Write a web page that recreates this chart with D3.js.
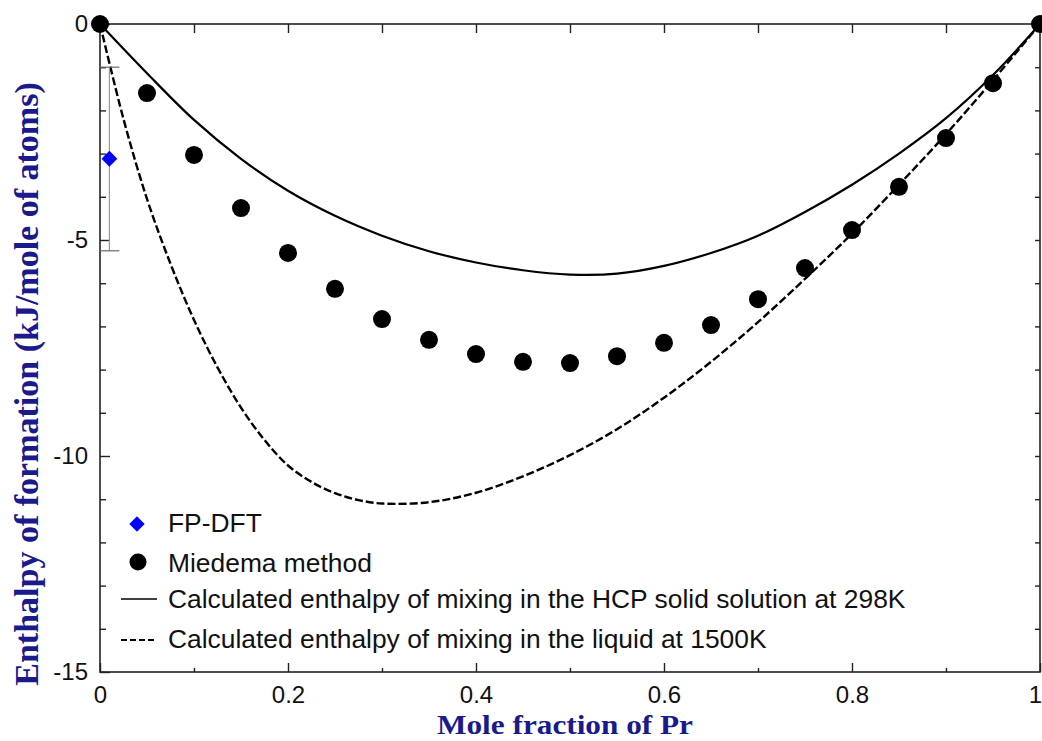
<!DOCTYPE html>
<html><head><meta charset="utf-8">
<script src="https://cdn.jsdelivr.net/npm/d3@7"></script>
<style>body{margin:0;background:#fff}svg{display:block}</style>
</head><body>
<svg id="c" width="1042" height="741"></svg>
<script>
// Miedema points
const miedemaX = [0,0.05,0.1,0.15,0.2,0.25,0.3,0.35,0.4,0.45,0.5,0.55,0.6,0.65,0.7,0.75,0.8,0.85,0.9,0.95,1];
const miedemaY = [0,-1.60,-3.03,-4.26,-5.30,-6.13,-6.83,-7.31,-7.64,-7.82,-7.85,-7.69,-7.38,-6.97,-6.37,-5.65,-4.77,-3.77,-2.64,-1.37,0];
// HCP solid solution at 298K
const hcpX = [0,0.05,0.1,0.15,0.2,0.25,0.3,0.35,0.4,0.45,0.5,0.55,0.6,0.65,0.7,0.75,0.8,0.85,0.9,0.95,1];
const hcpY = [0,-1.14,-2.22,-3.12,-3.86,-4.44,-4.90,-5.26,-5.52,-5.70,-5.80,-5.78,-5.60,-5.30,-4.90,-4.35,-3.72,-3.00,-2.18,-1.18,0];
// Liquid at 1500K
const liqX = [0,0.025,0.05,0.075,0.1,0.125,0.15,0.175,0.2,0.225,0.25,0.275,0.3,0.35,0.4,0.45,0.5,0.55,0.6,0.65,0.7,0.75,0.8,0.85,0.9,0.95,1];
const liqY = [0,-2.2,-4.05,-5.55,-6.85,-7.95,-8.88,-9.63,-10.22,-10.6,-10.86,-11.02,-11.1,-11.07,-10.85,-10.47,-9.98,-9.38,-8.65,-7.82,-6.9,-5.9,-4.85,-3.72,-2.55,-1.3,0];
// FP-DFT point with error bar
const dftX = [0.01];
const dftY = [-3.12];
const dftLow = [-5.25];
const dftHigh = [-1.0];
const xTicks = [0,0.2,0.4,0.6,0.8,1];
const yTicks = [0,-5,-10,-15];
const legendLabels = ["FP-DFT","Miedema method","Calculated enthalpy of mixing in the HCP solid solution at 298K","Calculated enthalpy of mixing in the liquid at 1500K"];

const svg = d3.select("#c");
const x = d3.scaleLinear().domain([0,1]).range([100,1040]);
const y = d3.scaleLinear().domain([-15,0]).range([672,24]);
const axisColor = "#222";
const sans = "Liberation Sans, Arial, sans-serif";
const serif = "Liberation Serif, Times New Roman, serif";

// frame
svg.append("rect").attr("x",x(0)).attr("y",y(0)).attr("width",x(1)-x(0)).attr("height",y(-15)-y(0))
  .attr("fill","none").attr("stroke",axisColor).attr("stroke-width",1.6);

// bottom axis
const gb = svg.append("g").attr("transform",`translate(0,${y(-15)})`);
gb.call(d3.axisBottom(x).tickValues(d3.range(0,1.01,0.1)).tickSize(-4).tickFormat(""));
gb.call(g=>g.selectAll(".tick").filter((d,i)=>i%2===0).select("line").attr("y2",-9));
gb.call(g=>g.select(".domain").remove());
gb.selectAll("line").attr("stroke",axisColor).attr("stroke-width",1.4);
const gbl = svg.append("g").attr("transform",`translate(0,${y(-15)})`)
  .call(d3.axisBottom(x).tickValues(xTicks).tickSize(0).tickPadding(14).tickFormat(d=>String(d)));
gbl.select(".domain").remove();
gbl.selectAll("text").attr("font-family",sans).attr("font-size",24).attr("fill","#111")
  .attr("dx",d=>d===1?-5:0);

// top axis
const gt = svg.append("g").attr("transform",`translate(0,${y(0)})`);
gt.call(d3.axisTop(x).tickValues(d3.range(0.1,0.95,0.1)).tickSize(-9).tickFormat(""));
gt.select(".domain").remove();
gt.selectAll("line").attr("stroke",axisColor).attr("stroke-width",1.4);

// left axis
const gl = svg.append("g").attr("transform",`translate(${x(0)},0)`);
gl.call(d3.axisLeft(y).tickValues(d3.range(-15,0.5,1)).tickSize(-6).tickFormat(""));
gl.call(g=>g.selectAll(".tick").filter(d=>d%5===0).select("line").attr("x2",10));
gl.select(".domain").remove();
gl.selectAll("line").attr("stroke",axisColor).attr("stroke-width",1.4);
const gll = svg.append("g").attr("transform",`translate(${x(0)},0)`)
  .call(d3.axisLeft(y).tickValues(yTicks).tickSize(0).tickPadding(12).tickFormat(d=>String(d)));
gll.select(".domain").remove();
gll.selectAll("text").attr("font-family",sans).attr("font-size",24).attr("fill","#111");

// right axis
const gr = svg.append("g").attr("transform",`translate(${x(1)},0)`);
gr.call(d3.axisRight(y).tickValues(d3.range(-14,0,1)).tickSize(-5).tickFormat(""));
gr.select(".domain").remove();
gr.selectAll("line").attr("stroke",axisColor).attr("stroke-width",1.4);

// axis titles
svg.append("text").attr("x",(x(0)+x(1))/2 - 5).attr("y",734).attr("text-anchor","middle")
  .attr("font-family",serif).attr("font-weight","bold")
  .attr("font-size",28).attr("fill","#1a1a8a").attr("textLength",256).attr("lengthAdjust","spacingAndGlyphs")
  .text("Mole fraction of Pr");
svg.append("text").attr("transform","translate(38,384) rotate(-90)").attr("text-anchor","middle")
  .attr("font-family",serif).attr("font-weight","bold")
  .attr("font-size",34).attr("fill","#1a1a8a").text("Enthalpy of formation (kJ/mole of atoms)");

const line = d3.line().x(d=>x(d[0])).y(d=>y(d[1])).curve(d3.curveCatmullRom.alpha(0.5));

// HCP curve
svg.append("path").datum(d3.zip(hcpX,hcpY)).attr("d",line).attr("fill","none")
  .attr("stroke","#000").attr("stroke-width",2.2);
// Liquid curve
svg.append("path").datum(d3.zip(liqX,liqY)).attr("d",line).attr("fill","none")
  .attr("stroke","#000").attr("stroke-width",2.4).attr("stroke-dasharray","8,3");

// error bar
const eb = svg.append("g");
dftX.forEach((dx,i)=>{
  eb.append("line").attr("x1",x(dx)).attr("x2",x(dx)).attr("y1",y(dftHigh[i])).attr("y2",y(dftLow[i]))
    .attr("stroke","#999").attr("stroke-width",1.2);
  [dftHigh[i],dftLow[i]].forEach(v=>{
    eb.append("line").attr("x1",x(dx)-10).attr("x2",x(dx)+10).attr("y1",y(v)).attr("y2",y(v))
      .attr("stroke","#666").attr("stroke-width",1.2);
  });
});

// Miedema dots
svg.append("g").selectAll("circle").data(d3.zip(miedemaX,miedemaY)).join("circle")
  .attr("cx",d=>x(d[0])).attr("cy",d=>y(d[1])).attr("r",9).attr("fill","#000");

// DFT diamond
svg.append("g").selectAll("path").data(d3.zip(dftX,dftY)).join("path")
  .attr("d",d3.symbol().type(d3.symbolDiamond2).size(160))
  .attr("transform",d=>`translate(${x(d[0])},${y(d[1])})`).attr("fill","#0000ff");

// legend
const lg = svg.append("g").attr("font-family",sans).attr("font-size",26.4).attr("fill","#111");
const textBase = [532,572,608,648];
const symY = [524,562,599,640];
lg.append("path").attr("d",d3.symbol().type(d3.symbolDiamond2).size(150)).attr("transform",`translate(137,${symY[0]})`).attr("fill","#0000ff");
lg.append("circle").attr("cx",138).attr("cy",symY[1]).attr("r",8.5).attr("fill","#000");
lg.append("line").attr("x1",121).attr("x2",157).attr("y1",symY[2]).attr("y2",symY[2]).attr("stroke","#000").attr("stroke-width",1.6);
lg.append("line").attr("x1",121).attr("x2",157).attr("y1",symY[3]).attr("y2",symY[3]).attr("stroke","#000").attr("stroke-width",2).attr("stroke-dasharray","6,3");
legendLabels.forEach((t,i)=>{
  lg.append("text").attr("x",168).attr("y",textBase[i]).text(t);
});
</script>
</body></html>
